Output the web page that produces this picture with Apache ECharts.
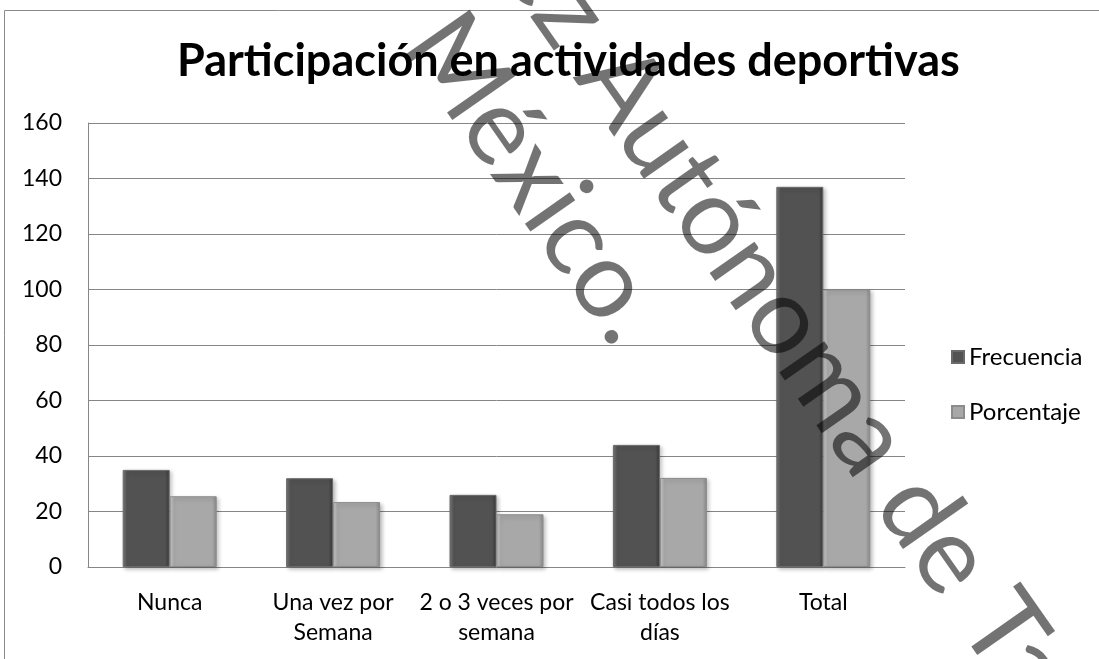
<!DOCTYPE html>
<html>
<head>
<meta charset="utf-8">
<script src="https://cdn.jsdelivr.net/npm/echarts@6/dist/echarts.min.js"></script>
<style>
  html, body { margin: 0; padding: 0; background: #fff; }
  #main { width: 1099px; height: 659px; }
</style>
</head>
<body>
<div id="main"></div>
<script>
// datos
var categorias = ["Nunca", "Una vez por\nSemana", "2 o 3 veces por\nsemana", "Casi todos los\ndías", "Total"];
var frecuencia = [35, 32, 26, 44, 137];
var porcentaje = [25.5, 23.4, 19, 32.1, 100];
var ticksY = [0, 20, 40, 60, 80, 100, 120, 140, 160];

var fuente = "Lato, 'Open Sans', sans-serif";
var ang = -55 * Math.PI / 180;

// relleno con efecto bisel
function bisel(c0, c1, c2) {
    return new echarts.graphic.LinearGradient(0, 0, 1, 0, [
        {offset: 0, color: c0},
        {offset: 0.1, color: c1},
        {offset: 0.9, color: c1},
        {offset: 1, color: c2}
    ]);
}

// texto de la marca de agua
function marca(txt, x, y, al) {
    return {
        type: "text", z: 100, silent: true, x: x, y: y, rotation: ang,
        style: {
            text: txt, align: al, verticalAlign: "middle",
            fontFamily: "Lato", fontSize: 108,
            fill: "rgba(0,0,0,0.55)"
        }
    };
}

var chart = echarts.init(document.getElementById("main"));
var option = {
    animation: false,
    title: {
        text: "Participación en actividades deportivas",
        left: 172,
        top: 34,
        textStyle: {fontFamily: fuente, fontSize: 45, fontWeight: "bold", color: "#000"}
    },
    legend: {
        orient: "vertical",
        left: 946,
        top: 340,
        itemWidth: 12,
        itemHeight: 12,
        itemGap: 31,
        icon: "rect",
        textStyle: {fontFamily: fuente, fontSize: 24, color: "#000"},
        data: ["Frecuencia", "Porcentaje"]
    },
    grid: {left: 88, right: 194, top: 123, bottom: 92},
    xAxis: {
        type: "category",
        data: categorias,
        axisLine: {lineStyle: {color: "#868686"}},
        axisTick: {show: false},
        axisLabel: {fontFamily: fuente, fontSize: 23, color: "#000", lineHeight: 30, margin: 21, interval: 0}
    },
    yAxis: {
        type: "value",
        min: ticksY[0],
        max: ticksY[ticksY.length - 1],
        interval: 20,
        axisLine: {show: true, lineStyle: {color: "#868686"}},
        axisTick: {show: false},
        splitLine: {lineStyle: {color: "#868686"}},
        axisLabel: {fontFamily: fuente, fontSize: 23, color: "#000", margin: 26}
    },
    series: [
        {
            name: "Frecuencia",
            type: "bar",
            data: frecuencia,
            barWidth: 47,
            barGap: "0%",
            itemStyle: {
                color: bisel("#7a7a7a", "#525252", "#3a3a3a"),
                borderColor: "#6a6a6a",
                borderWidth: 1,
                shadowBlur: 4,
                shadowOffsetX: 2,
                shadowOffsetY: 2,
                shadowColor: "rgba(0,0,0,0.25)"
            }
        },
        {
            name: "Porcentaje",
            type: "bar",
            data: porcentaje,
            barWidth: 47,
            itemStyle: {
                color: bisel("#cccccc", "#a8a8a8", "#8a8a8a"),
                borderColor: "#8c8c8c",
                borderWidth: 1,
                shadowBlur: 4,
                shadowOffsetX: 2,
                shadowOffsetY: 2,
                shadowColor: "rgba(0,0,0,0.25)"
            }
        }
    ],
    graphic: [
        // marco
        {type: "rect", z: 100, silent: true,
         shape: {x: 4.5, y: 10.5, width: 1200, height: 800},
         style: {fill: "none", stroke: "#8a8a8a", lineWidth: 1}},
        // marca de agua
        marca("Universidad Juárez ", 601, 57, "right"),
        marca("Autónoma de Tabasco.", 601, 57, "left"),
        marca("México.", 429, 26, "left")
    ]
};
chart.setOption(option);
</script>
</body>
</html>
